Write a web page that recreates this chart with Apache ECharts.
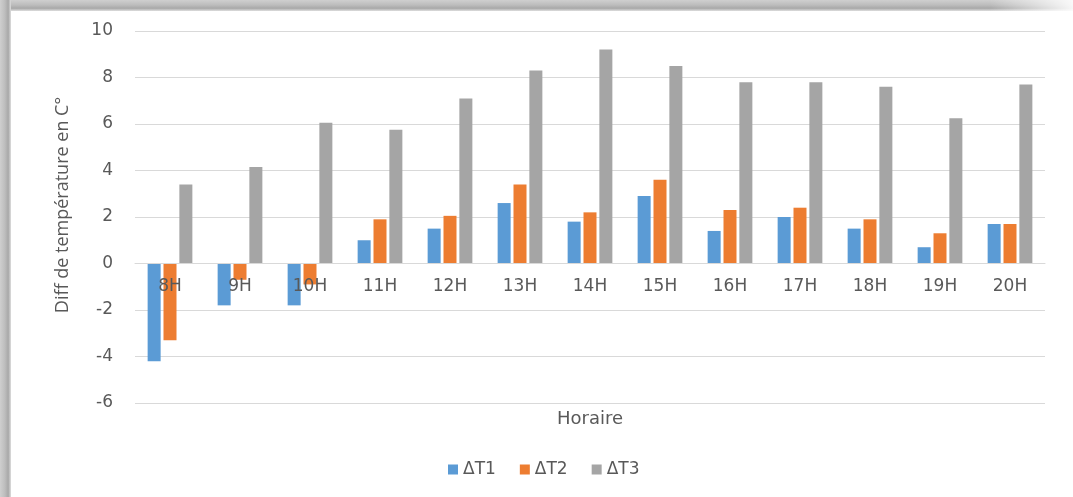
<!DOCTYPE html>
<html>
<head>
<meta charset="utf-8">
<script src="https://cdn.jsdelivr.net/npm/echarts@6/dist/echarts.min.js"></script>
<style>
  html, body { margin: 0; padding: 0; background: #fff; }
  #chart { width: 1073px; height: 497px; }
</style>
</head>
<body>
<div id="chart"></div>
<script>
// Data
var hours = ['8H', '9H', '10H', '11H', '12H', '13H', '14H', '15H', '16H', '17H', '18H', '19H', '20H'];
var dT1 = [-4.2, -1.8, -1.8, 1.0, 1.5, 2.6, 1.8, 2.9, 1.4, 2.0, 1.5, 0.7, 1.7];
var dT2 = [-3.3, -0.7, -0.9, 1.9, 2.05, 3.4, 2.2, 3.6, 2.3, 2.4, 1.9, 1.3, 1.7];
var dT3 = [3.4, 4.15, 6.05, 5.75, 7.1, 8.3, 9.2, 8.5, 7.8, 7.8, 7.6, 6.25, 7.7];

var font = '"DejaVu Sans", sans-serif';
var textColor = '#595959';

var chart = echarts.init(document.getElementById('chart'));

function bar(name, data, color) {
    return {
        name: name,
        type: 'bar',
        data: data,
        barWidth: 13,
        barGap: '22%',
        itemStyle: { color: color }
    };
}

// grey shadow band of the picture frame
function frameBand(vertical) {
    return {
        type: 'rect', left: 0, top: 0, z: 100,
        shape: vertical ? { width: 11, height: 497 } : { width: 1073, height: 11 },
        style: {
            fill: new echarts.graphic.LinearGradient(0, 0, vertical ? 1 : 0, vertical ? 0 : 1, [
                { offset: 0, color: '#cfcfcf' },
                { offset: 0.45, color: '#bdbdbd' },
                { offset: 0.75, color: '#a8a8a8' },
                { offset: 1, color: '#dedede' }
            ])
        }
    };
}

var option = {
    backgroundColor: '#fff',
    animation: false,
    graphic: [
        frameBand(false),
        frameBand(true),
        {
            type: 'rect', left: 990, top: 0, z: 101,
            shape: { width: 83, height: 11 },
            style: {
                fill: new echarts.graphic.LinearGradient(0, 0, 1, 0, [
                    { offset: 0, color: 'rgba(255,255,255,0)' },
                    { offset: 1, color: 'rgba(255,255,255,0.9)' }
                ])
            }
        }
    ],
    grid: { left: 135, right: 28, top: 31, bottom: 94, outerBoundsMode: 'none', containLabel: false },
    legend: {
        data: ['ΔT1', 'ΔT2', 'ΔT3'],
        left: 443,
        top: 456,
        icon: 'rect',
        itemWidth: 10,
        itemHeight: 10,
        itemGap: 24,
        textStyle: { color: textColor, fontSize: 17, fontFamily: font }
    },
    xAxis: {
        type: 'category',
        data: hours,
        z: 5,
        // axis sits on the zero line (403 - 263 px)
        offset: -140,
        name: 'Horaire',
        nameLocation: 'middle',
        nameGap: 147,
        nameTextStyle: { color: textColor, fontSize: 18, fontFamily: font },
        axisLine: { onZero: false, lineStyle: { color: '#d9d9d9' } },
        axisTick: { show: false },
        axisLabel: { color: textColor, fontSize: 17, fontFamily: font, margin: 15 }
    },
    yAxis: {
        type: 'value',
        min: -6,
        max: 10,
        interval: 2,
        name: 'Diff de température en C°',
        nameLocation: 'middle',
        nameGap: 63,
        nameTextStyle: { color: textColor, fontSize: 18, fontFamily: '"Open Sans", sans-serif', padding: [0, 0, 0, 24] },
        axisLine: { show: false },
        axisTick: { show: false },
        axisLabel: { color: textColor, fontSize: 17, fontFamily: font, margin: 22 },
        splitLine: { lineStyle: { color: '#d9d9d9', width: 1 } }
    },
    series: [
        bar('ΔT1', dT1, '#5B9BD5'),
        bar('ΔT2', dT2, '#ED7D31'),
        bar('ΔT3', dT3, '#A5A5A5')
    ]
};

chart.setOption(option);
</script>
</body>
</html>
